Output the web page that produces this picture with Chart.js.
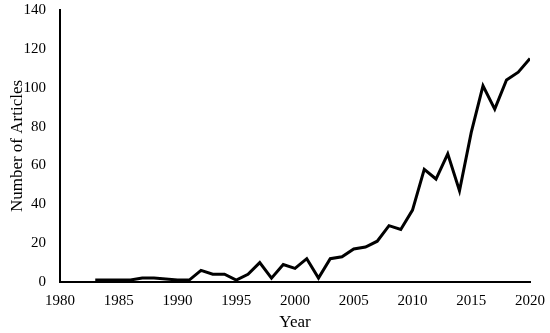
<!DOCTYPE html>
<html>
<head>
<meta charset="utf-8">
<script src="https://cdn.jsdelivr.net/npm/chart.js@4"></script>
<style>
html,body{margin:0;padding:0;background:#fff;}
#wrap{width:550px;height:333px;}
</style>
</head>
<body>
<div id="wrap"><canvas id="c" width="550" height="333"></canvas></div>
<script>
const years = [1983,1984,1985,1986,1987,1988,1989,1990,1991,1992,1993,1994,1995,1996,1997,1998,1999,2000,2001,2002,2003,2004,2005,2006,2007,2008,2009,2010,2011,2012,2013,2014,2015,2016,2017,2018,2019,2020];
const articles = [1,1,1,1,2,2,1.5,1,1,6,4,4,1,4,10,2,9,7,12,2,12,13,17,18,21,29,27,37,58,53,66,47,77,101,89,104,108,115];
const xTitle = "Year";
const yTitle = "Number of Articles";

const family = "'Liberation Serif','Times New Roman',serif";
const tickFont = {family: family, size: 15};
const titleFont = {family: family, size: 17};
new Chart(document.getElementById('c'), {
  type: 'line',
  data: {
    datasets: [{
      data: years.map((y,i)=>({x:y, y:articles[i]})),
      borderColor: '#000',
      borderWidth: 3,
      borderJoinStyle: 'miter',
      pointRadius: 0,
      tension: 0,
      fill: false
    }]
  },
  options: {
    responsive: false,
    animation: false,
    layout: {padding: 0},
    plugins: {legend: {display: false}, tooltip: {enabled: false}},
    scales: {
      x: {
        type: 'linear', min: 1980, max: 2020,
        grid: {display: false, drawTicks: false},
        border: {display: true, color: '#000', width: 2},
        ticks: {stepSize: 5, color: '#000', font: tickFont, padding: 10, maxRotation: 0, callback: v => String(v)},
        title: {display: true, text: xTitle, color: '#000', font: titleFont, padding: {top: 2, bottom: 0}},
        afterFit: s => { s.height = 51; s.paddingLeft = 0; s.paddingRight = 20; }
      },
      y: {
        min: 0, max: 140,
        grid: {display: false, drawTicks: false},
        border: {display: true, color: '#000', width: 2},
        ticks: {stepSize: 20, color: '#000', font: tickFont, padding: 14},
        title: {display: true, text: yTitle, color: '#000', font: titleFont, padding: {top: 7, bottom: 0}},
        afterFit: s => { s.width = 60; s.paddingTop = 10; s.paddingBottom = 0; }
      }
    }
  }
});
</script>
</body>
</html>
